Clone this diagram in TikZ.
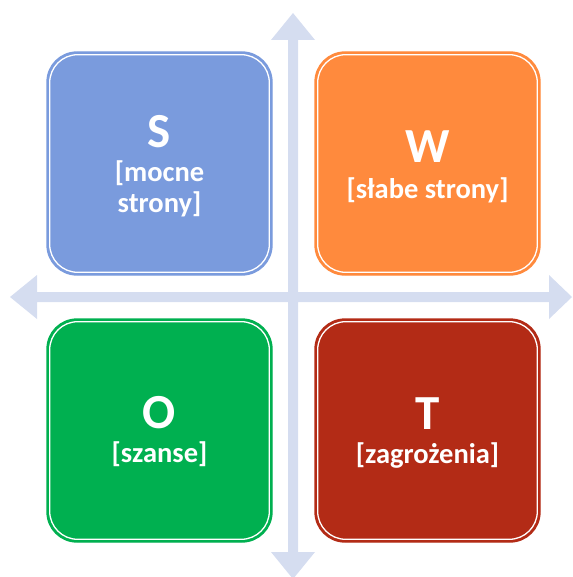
\documentclass[tikz,border=0pt]{standalone}
\usepackage{fontspec}
\setmainfont{Carlito}
\definecolor{sblue}{HTML}{7A9BDD}
\definecolor{worange}{HTML}{FF8A3D}
\definecolor{ogreen}{HTML}{00B050}
\definecolor{tred}{HTML}{B32B16}
\definecolor{arrowc}{HTML}{D5DDF0}
\begin{document}
\begin{tikzpicture}[x=1pt,y=-1pt,
  quad/.style={rounded corners=30pt,line width=1.3pt,draw=#1,fill=#1,minimum width=225pt,minimum height=223pt,inner sep=0pt},
  inner/.style={rounded corners=28pt,line width=1.3pt,draw=white,minimum width=219.6pt,minimum height=217.6pt,inner sep=0pt},
  big/.style={text=white,font=\bfseries\fontsize{49}{49}\selectfont,anchor=base,inner sep=0pt},
  lbl/.style={text=white,font=\bfseries\fontsize{28.5}{30}\selectfont,anchor=base,inner sep=0pt}]
\useasboundingbox (0,0) rectangle (572,577);
% arrows
\fill[arrowc] (10,297) -- (37,275) -- (37,292) -- (288,292) -- (288,40) -- (271,40) -- (293,13) -- (315,40) -- (298,40) -- (298,292)
  -- (549,292) -- (549,275) -- (572,297) -- (549,319) -- (549,302) -- (298,302) -- (298,552) -- (315,552) -- (293,579) -- (271,552) -- (288,552)
  -- (288,302) -- (37,302) -- (37,319) -- cycle;
% boxes
\node[quad=sblue] (S) at (159.5,163.5) {};
\node[quad=worange] (W) at (427.5,163.5) {};
\node[quad=ogreen] (O) at (159.5,430.5) {};
\node[quad=tred] (T) at (427.5,430.5) {};
\node[inner] (Si) at (S.center) {};
\node[inner] (Wi) at (W.center) {};
\node[inner] (Oi) at (O.center) {};
\node[inner] (Ti) at (T.center) {};
% texts
\node[big] (St) at (159.5,148) {S};
\node[lbl] (Sl1) at (159.5,182) {[mocne};
\node[lbl] (Sl2) at (159.5,212) {strony]};
\node[big] (Wt) at (427.5,163) {W};
\node[lbl] (Wl) at (427.5,198) {[słabe strony]};
\node[big] (Ot) at (159.5,428) {O};
\node[lbl] (Ol) at (159.5,462) {[szanse]};
\node[big] (Tt) at (427.5,429) {T};
\node[lbl] (Tl) at (427.5,463) {[zagrożenia]};
\end{tikzpicture}
\end{document}
